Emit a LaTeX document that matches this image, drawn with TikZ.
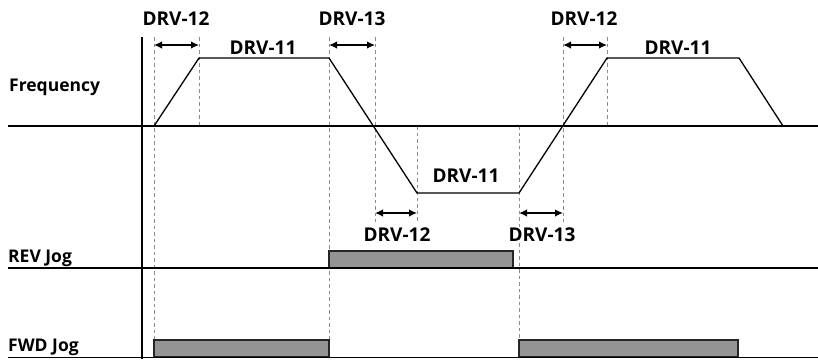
\documentclass[tikz,border=0pt]{standalone}
\usepackage{fontspec}
\setmainfont{Open Sans}
\usetikzlibrary{arrows.meta}
\begin{document}
\begin{tikzpicture}[x=1pt,y=-1pt,
 lbl/.style={font=\fontsize{19}{19}\selectfont\bfseries, inner sep=0pt},
 side/.style={font=\fontsize{17.5}{17.5}\selectfont\bfseries, inner sep=0pt, anchor=west},
 axisline/.style={line width=1.6pt},
 guide/.style={black!45, line width=0.8pt, dash pattern=on 3.5pt off 3pt},
 wave/.style={line width=1.3pt, line join=round},
 dimarrow/.style={line width=1.5pt, {Latex[length=8pt,width=7.5pt]}-{Latex[length=8pt,width=7.5pt]}},
 bar/.style={fill=black!42, draw=black!85, line width=1.2pt}]
\useasboundingbox (0,0) rectangle (818,359);
% guide lines
\draw[guide] (154,37) -- (154,340);
\draw[guide] (199,37) -- (199,126);
\draw[guide] (329,37) -- (329,340);
\draw[guide] (375,37) -- (375,222);
\draw[guide] (417,126) -- (417,222);
\draw[guide] (519,126) -- (519,340);
\draw[guide] (563,37) -- (563,222);
\draw[guide] (607,37) -- (607,126);
% bars
\draw[bar] (329,268) rectangle (513,251);
\draw[bar] (154,357) rectangle (329,340);
\draw[bar] (519,357) rectangle (738,340);
% axes
\coordinate (ax0) at (142,37);
\coordinate (ax1) at (142,359);
\draw[axisline] (ax0) -- (ax1);
\coordinate (fl) at (8,126); \coordinate (fr) at (818,126);
\coordinate (rl) at (8,268); \coordinate (rr) at (818,268);
\coordinate (wl) at (8,357.5); \coordinate (wr) at (818,357.5);
\draw[axisline] (fl) -- (fr);
\draw[axisline] (rl) -- (rr);
\draw[axisline] (wl) -- (wr);
% frequency waveform
\coordinate (p0) at (154,126);
\coordinate (p1) at (199,58);
\coordinate (p2) at (329,58);
\coordinate (p3) at (417,193);
\coordinate (p4) at (519,193);
\coordinate (p5) at (607,58);
\coordinate (p6) at (739,58);
\coordinate (p7) at (783,126);
\draw[wave] (p0) -- (p1) -- (p2) -- (p3) -- (p4) -- (p5) -- (p6) -- (p7);
% dimension arrows
\coordinate (a1) at (154,45); \coordinate (a2) at (199,45);
\coordinate (a3) at (329,45); \coordinate (a4) at (375,45);
\coordinate (a5) at (563,45); \coordinate (a6) at (607,45);
\coordinate (a7) at (375,213); \coordinate (a8) at (417,213);
\coordinate (a9) at (519,213); \coordinate (a10) at (563,213);
\draw[dimarrow] (a1) -- (a2);
\draw[dimarrow] (a3) -- (a4);
\draw[dimarrow] (a5) -- (a6);
\draw[dimarrow] (a7) -- (a8);
\draw[dimarrow] (a9) -- (a10);
% labels
\node[lbl] (l12a) at (176,19) {DRV-12};
\node[lbl] (l13a) at (352,19) {DRV-13};
\node[lbl] (l12b) at (584,19) {DRV-12};
\node[lbl] (l11a) at (263,48) {DRV-11};
\node[lbl] (l11b) at (678,48) {DRV-11};
\node[lbl] (l11c) at (466,176) {DRV-11};
\node[lbl] (l12c) at (397,235) {DRV-12};
\node[lbl] (l13c) at (542,235) {DRV-13};
\node[side] (freq) at (9,87) {Frequency};
\node[side] (rev) at (8,258) {REV Jog};
\node[side] (fwd) at (8,347) {FWD Jog};
\end{tikzpicture}
\end{document}
